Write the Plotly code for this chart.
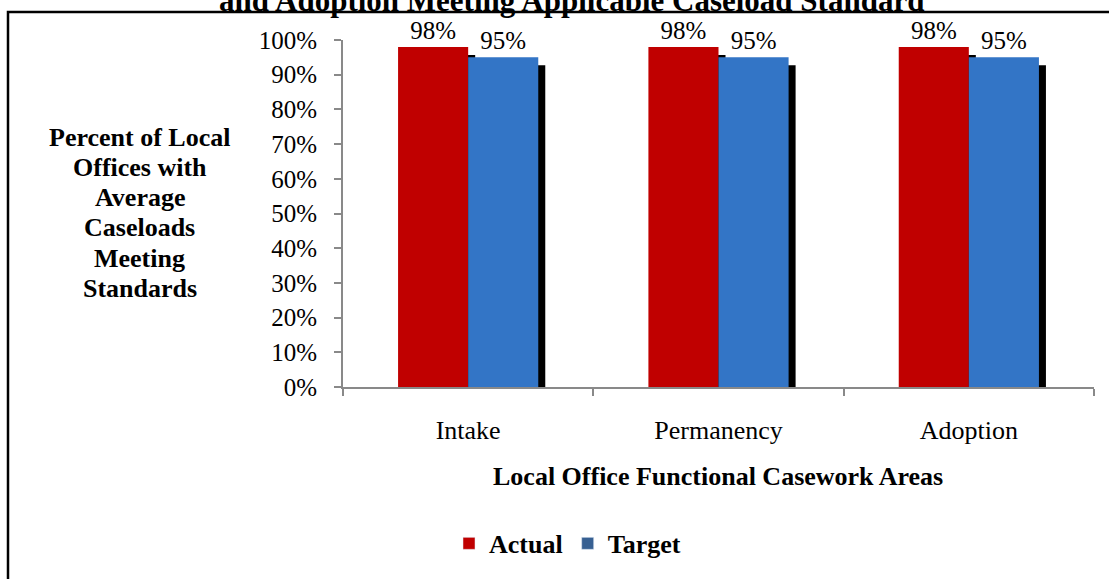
import plotly.graph_objects as go

areas = ["Intake", "Permanency", "Adoption"]
actual = [98, 98, 98]
target = [95, 95, 95]
y_ticks = [0, 10, 20, 30, 40, 50, 60, 70, 80, 90, 100]
y_labels = [f"{v}%" for v in y_ticks]
y_title_lines = ["Percent of Local", "Offices with", "Average", "Caseloads",
                 "Meeting", "Standards"]

RED = "#C00000"
BLUE = "#3375C6"
BLUE_LEGEND = "#376092"
SERIF = "Liberation Serif, Times New Roman, serif"

W, H = 1109, 579
K = 1 / 0.985          # the photo comes out slightly squeezed vertically
L, R = 343, 15
T = round(39 * K)
B = H - round(392 * K)
pw, ph = W - L - R, H - T - B


def px(x):
    return (x - L) / pw


def py(y):
    return (H - B - y * K) / ph


bw = 0.28      # bar width in category units
dx = 0.028     # shadow shift right
dy = 2.3       # shadow shift down (percent units)

fig = go.Figure()

# drop shadows
for vals, off in [(actual, -bw), (target, 0)]:
    fig.add_trace(go.Bar(
        x=areas, y=vals, base=[-dy] * len(vals), width=bw, offset=off + dx,
        marker=dict(color="black", line_width=0), showlegend=False,
        hoverinfo="skip",
    ))

fig.add_trace(go.Bar(
    x=areas, y=actual, width=bw, offset=-bw, name="Actual",
    marker=dict(color=RED, line_width=0), showlegend=False,
    text=[f"{v}%" for v in actual], textposition="outside", cliponaxis=False,
    textfont=dict(family=SERIF, size=25, color="black"),
))
fig.add_trace(go.Bar(
    x=areas, y=target, width=bw, offset=0, name="Target",
    marker=dict(color=BLUE, line_width=0), showlegend=False,
    text=[f"{v}%" for v in target], textposition="outside", cliponaxis=False,
    textfont=dict(family=SERIF, size=25, color="black"),
))

# legend entries
fig.add_trace(go.Bar(x=[None], y=[None], name="<b>Actual</b>", marker_color=RED))
fig.add_trace(go.Bar(x=[None], y=[None], name="<b>Target</b>", marker_color=BLUE_LEGEND))

annotations = [
    dict(text="<b>and Adoption Meeting Applicable Caseload Standard</b>",
         x=px(571), y=py(19), xref="paper", yref="paper",
         xanchor="center", yanchor="bottom", showarrow=False,
         font=dict(family=SERIF, size=31, color="black")),
    dict(text="<b>Local Office Functional Casework Areas</b>",
         x=px(718), y=py(483), xref="paper", yref="paper",
         xanchor="center", yanchor="middle", showarrow=False,
         font=dict(family=SERIF, size=26, color="black")),
]
for i, line in enumerate(y_title_lines):
    annotations.append(dict(
        text=f"<b>{line}</b>", x=px(140), y=py(138 + i * 30.8),
        xref="paper", yref="paper", xanchor="center", yanchor="middle",
        showarrow=False, font=dict(family=SERIF, size=26, color="black")))

fig.update_layout(
    width=W, height=H,
    margin=dict(l=L, r=R, t=T, b=B, pad=0),
    paper_bgcolor="white", plot_bgcolor="white",
    barmode="overlay",
    font=dict(family=SERIF, color="black"),
    annotations=annotations,
    shapes=[dict(type="rect", xref="paper", yref="paper",
                 x0=px(8), x1=px(1130), y0=py(620), y1=py(11),
                 line=dict(color="black", width=2.5), fillcolor="rgba(0,0,0,0)")],
    legend=dict(orientation="h", x=px(449), y=py(551), xanchor="left",
                yanchor="middle", font=dict(family=SERIF, size=26, color="black"),
                bgcolor="rgba(0,0,0,0)"),
    xaxis=dict(
        type="category", range=[-0.5, 2.5], showgrid=False,
        showline=True, linecolor="#898989", linewidth=2,
        ticks="outside", tickson="boundaries", ticklen=7, tickwidth=2,
        tickcolor="#898989", ticklabelstandoff=19,
        tickfont=dict(family=SERIF, size=26, color="black"),
    ),
    yaxis=dict(
        range=[0, 100], tickvals=y_ticks, ticktext=y_labels, showgrid=False,
        showline=True, linecolor="#898989", linewidth=2, zeroline=False,
        ticks="outside", ticklen=7, tickwidth=2, tickcolor="#898989",
        ticklabelstandoff=12,
        tickfont=dict(family=SERIF, size=25, color="black"),
    ),
)

# the page's default body margin would shift the whole chart by 8px
fig.write_html("out.html", config={"displayModeBar": False},
               post_script="document.body.style.margin='0';")
